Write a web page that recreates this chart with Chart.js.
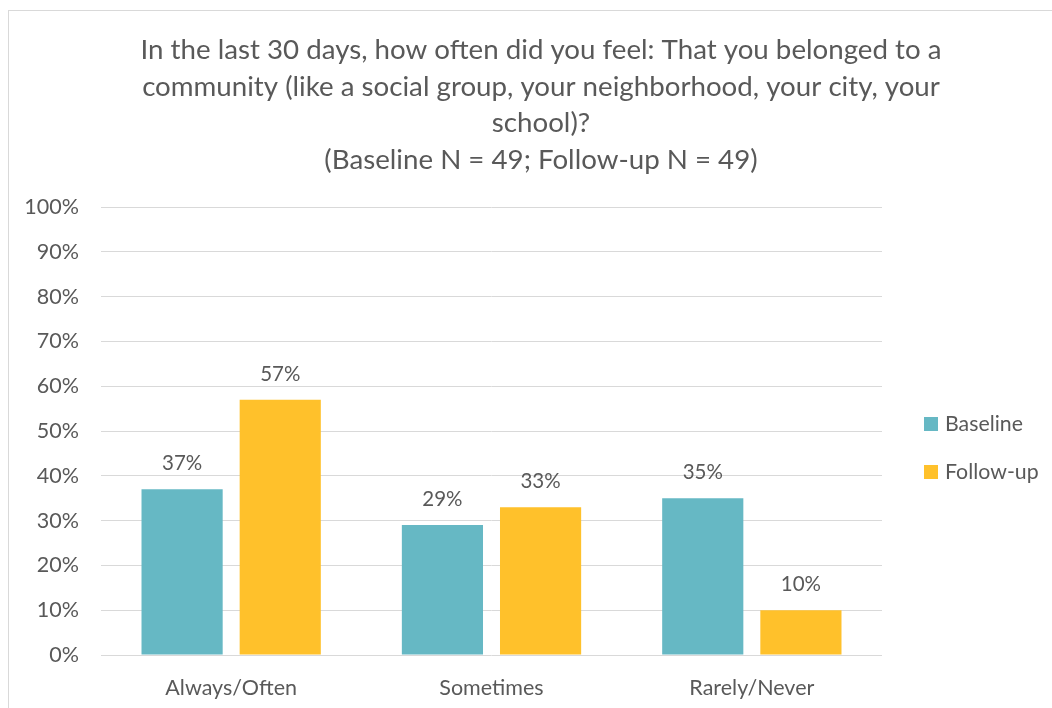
<!DOCTYPE html>
<html>
<head>
<meta charset="utf-8">
<script src="https://cdn.jsdelivr.net/npm/chart.js@4"></script>
<style>
  html, body { margin: 0; padding: 0; background: #fff; overflow: hidden; }
  #frame { position: absolute; left: 8px; top: 10px; width: 1100px; height: 760px; border: 1px solid #d9d9d9; }
  #wrap { position: absolute; left: 0; top: 0; width: 1052px; height: 708px; }
</style>
</head>
<body>
<div id="frame"></div>
<div id="wrap"><canvas id="surveyChart"></canvas></div>
<script>
const categories = ['Always/Often', 'Sometimes', 'Rarely/Never'];
const baseline = [37, 29, 35];
const followUp = [57, 33, 10];
const seriesNames = ['Baseline', 'Follow-up'];
const seriesColors = ['#66b8c4', '#ffc12b'];
const titleLines = [
  'In the last 30 days, how often did you feel: That you belonged to a',
  'community (like a social group, your neighborhood, your city, your',
  'school)?',
  '(Baseline N = 49; Follow-up N = 49)'
];

const FONT = 'Lato, "Open Sans", sans-serif';
const GREY = '#595959';

// wrapped title, centred over the whole chart (legend included)
const chartTitle = {
  id: 'chartTitle',
  afterDraw(chart) {
    const ctx = chart.ctx;
    ctx.save();
    ctx.font = '27.7px ' + FONT;
    ctx.fillStyle = GREY;
    ctx.textAlign = 'center';
    ctx.textBaseline = 'alphabetic';
    titleLines.forEach((line, i) => ctx.fillText(line, 541, 59 + i * 36.5));
    ctx.restore();
  }
};

// value labels above each bar
const barLabels = {
  id: 'barLabels',
  afterDatasetsDraw(chart) {
    const ctx = chart.ctx;
    ctx.save();
    ctx.font = '20.5px ' + FONT;
    ctx.fillStyle = GREY;
    ctx.textAlign = 'center';
    ctx.textBaseline = 'alphabetic';
    chart.data.datasets.forEach((ds, i) => {
      chart.getDatasetMeta(i).data.forEach((bar, j) => {
        ctx.fillText(ds.data[j] + '%', bar.x, bar.y - 19);
      });
    });
    ctx.restore();
  }
};

// legend on the right, drawn by hand
const sideLegend = {
  id: 'sideLegend',
  afterDraw(chart) {
    const ctx = chart.ctx;
    ctx.save();
    ctx.font = '21.3px ' + FONT;
    ctx.textBaseline = 'middle';
    chart.data.datasets.forEach((ds, i) => {
      const y = 424 + i * 48;
      ctx.fillStyle = ds.backgroundColor;
      ctx.fillRect(924, y - 7, 14, 14);
      ctx.fillStyle = GREY;
      ctx.fillText(ds.label, 945, y);
    });
    ctx.restore();
  }
};

const ctx = document.getElementById('surveyChart').getContext('2d');
const chart = new Chart(ctx, {
  type: 'bar',
  data: {
    labels: categories,
    datasets: [
      { label: seriesNames[0], data: baseline, backgroundColor: seriesColors[0] },
      { label: seriesNames[1], data: followUp, backgroundColor: seriesColors[1] }
    ]
  },
  options: {
    responsive: true,
    maintainAspectRatio: false,
    animation: false,
    categoryPercentage: 0.754,
    barPercentage: 0.827,
    layout: { padding: { left: 0, right: 170, top: 207, bottom: 3 } },
    plugins: {
      legend: { display: false },
      tooltip: { enabled: false },
      title: { display: false }
    },
    scales: {
      x: {
        afterFit(scale) { scale.height = 50; },
        grid: { display: false, drawTicks: false },
        border: { display: false },
        ticks: { color: GREY, font: { family: FONT, size: 21.5 }, padding: 20 }
      },
      y: {
        min: 0,
        max: 100,
        afterFit(scale) { scale.width = 101; },
        grid: { color: '#d9d9d9', lineWidth: 1, drawTicks: false },
        border: { display: false },
        ticks: {
          stepSize: 10,
          color: GREY,
          font: { family: FONT, size: 21.5 },
          padding: 22,
          callback: v => v + '%'
        }
      }
    }
  },
  plugins: [chartTitle, barLabels, sideLegend]
});
</script>
</body>
</html>
